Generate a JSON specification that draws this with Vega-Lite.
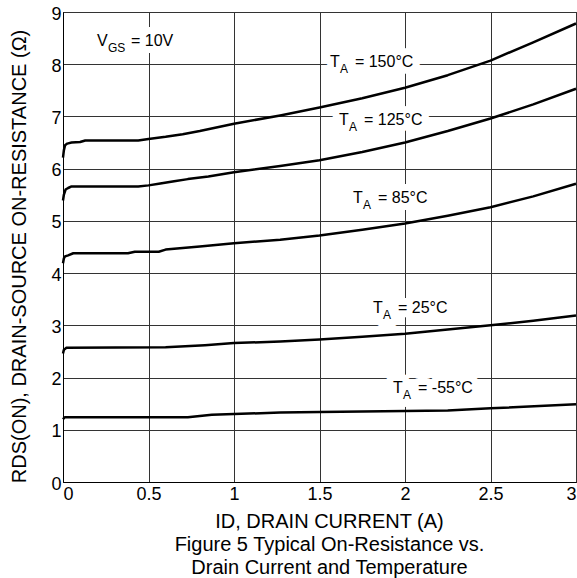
{
  "$schema": "https://vega.github.io/schema/vega-lite/v6.json",
  "width": 513,
  "height": 470,
  "autosize": {"type": "none"},
  "padding": {"left": 63, "top": 12, "right": 1, "bottom": 96},
  "background": "white",
  "config": {
    "font": "Liberation Sans",
    "view": {"stroke": "black", "strokeWidth": 1}
  },
  "datasets": {
    "curves": [
      {"series": "150", "id": 0, "r": 6.21}, {"series": "150", "id": 0.005, "r": 6.35}, {"series": "150", "id": 0.012, "r": 6.45}, {"series": "150", "id": 0.025, "r": 6.48}, {"series": "150", "id": 0.05, "r": 6.5}, {"series": "150", "id": 0.1, "r": 6.51}, {"series": "150", "id": 0.13, "r": 6.54}, {"series": "150", "id": 0.44, "r": 6.54}, {"series": "150", "id": 0.5, "r": 6.57}, {"series": "150", "id": 0.6, "r": 6.61}, {"series": "150", "id": 0.7, "r": 6.66}, {"series": "150", "id": 0.8, "r": 6.72}, {"series": "150", "id": 1.0, "r": 6.86}, {"series": "150", "id": 1.27, "r": 7.02}, {"series": "150", "id": 1.5, "r": 7.17}, {"series": "150", "id": 1.75, "r": 7.35}, {"series": "150", "id": 2.0, "r": 7.55}, {"series": "150", "id": 2.25, "r": 7.79}, {"series": "150", "id": 2.5, "r": 8.07}, {"series": "150", "id": 2.75, "r": 8.42}, {"series": "150", "id": 3.0, "r": 8.78},
      {"series": "125", "id": 0, "r": 5.39}, {"series": "125", "id": 0.005, "r": 5.5}, {"series": "125", "id": 0.015, "r": 5.6}, {"series": "125", "id": 0.03, "r": 5.63}, {"series": "125", "id": 0.05, "r": 5.66}, {"series": "125", "id": 0.44, "r": 5.66}, {"series": "125", "id": 0.5, "r": 5.68}, {"series": "125", "id": 0.56, "r": 5.71}, {"series": "125", "id": 0.65, "r": 5.76}, {"series": "125", "id": 0.73, "r": 5.8}, {"series": "125", "id": 0.85, "r": 5.85}, {"series": "125", "id": 1.0, "r": 5.93}, {"series": "125", "id": 1.27, "r": 6.05}, {"series": "125", "id": 1.5, "r": 6.16}, {"series": "125", "id": 1.75, "r": 6.32}, {"series": "125", "id": 2.0, "r": 6.5}, {"series": "125", "id": 2.25, "r": 6.72}, {"series": "125", "id": 2.5, "r": 6.96}, {"series": "125", "id": 2.75, "r": 7.23}, {"series": "125", "id": 3.0, "r": 7.53},
      {"series": "85", "id": 0, "r": 4.19}, {"series": "85", "id": 0.005, "r": 4.28}, {"series": "85", "id": 0.012, "r": 4.32}, {"series": "85", "id": 0.03, "r": 4.34}, {"series": "85", "id": 0.06, "r": 4.38}, {"series": "85", "id": 0.38, "r": 4.38}, {"series": "85", "id": 0.42, "r": 4.41}, {"series": "85", "id": 0.56, "r": 4.41}, {"series": "85", "id": 0.6, "r": 4.45}, {"series": "85", "id": 0.8, "r": 4.51}, {"series": "85", "id": 1.0, "r": 4.57}, {"series": "85", "id": 1.27, "r": 4.64}, {"series": "85", "id": 1.5, "r": 4.72}, {"series": "85", "id": 1.75, "r": 4.83}, {"series": "85", "id": 2.0, "r": 4.95}, {"series": "85", "id": 2.25, "r": 5.1}, {"series": "85", "id": 2.5, "r": 5.26}, {"series": "85", "id": 2.75, "r": 5.47}, {"series": "85", "id": 3.0, "r": 5.71},
      {"series": "25", "id": 0, "r": 2.46}, {"series": "25", "id": 0.005, "r": 2.53}, {"series": "25", "id": 0.02, "r": 2.57}, {"series": "25", "id": 0.6, "r": 2.58}, {"series": "25", "id": 0.83, "r": 2.62}, {"series": "25", "id": 1.0, "r": 2.66}, {"series": "25", "id": 1.27, "r": 2.69}, {"series": "25", "id": 1.5, "r": 2.73}, {"series": "25", "id": 1.75, "r": 2.78}, {"series": "25", "id": 2.0, "r": 2.84}, {"series": "25", "id": 2.25, "r": 2.92}, {"series": "25", "id": 2.5, "r": 3.0}, {"series": "25", "id": 2.75, "r": 3.09}, {"series": "25", "id": 3.0, "r": 3.19},
      {"series": "-55", "id": 0, "r": 1.2}, {"series": "-55", "id": 0.01, "r": 1.24}, {"series": "-55", "id": 0.73, "r": 1.24}, {"series": "-55", "id": 0.87, "r": 1.29}, {"series": "-55", "id": 1.0, "r": 1.3}, {"series": "-55", "id": 1.27, "r": 1.33}, {"series": "-55", "id": 1.5, "r": 1.34}, {"series": "-55", "id": 2.0, "r": 1.36}, {"series": "-55", "id": 2.25, "r": 1.37}, {"series": "-55", "id": 2.5, "r": 1.41}, {"series": "-55", "id": 3.0, "r": 1.49}
    ],
    "labels": [
      {"m": "T", "s": "A", "rest": "=  150°C", "id": 1.561, "r": 7.95},
      {"m": "T", "s": "A", "rest": "=  125°C", "id": 1.614, "r": 6.84},
      {"m": "T", "s": "A", "rest": "=  85°C", "id": 1.696, "r": 5.34},
      {"m": "T", "s": "A", "rest": "=  25°C", "id": 1.813, "r": 3.23},
      {"m": "T", "s": "A", "rest": "=  -55°C", "id": 1.93, "r": 1.70}
    ],
    "vgs": [
      {"m": "V", "s": "GS", "rest": "=  10V", "id": 0.199, "r": 8.34}
    ]
  },
  "layer": [
    {
      "data": {"name": "curves"},
      "mark": {"type": "line", "color": "black", "strokeWidth": 2.5, "strokeJoin": "round"},
      "encoding": {
        "x": {
          "field": "id", "type": "quantitative",
          "scale": {"domain": [0, 3], "nice": false, "zero": false},
          "axis": {
            "title": ["ID, DRAIN CURRENT (A)", "Figure 5 Typical On-Resistance vs.", "Drain Current and Temperature"],
            "values": [0, 0.5, 1, 1.5, 2, 2.5, 3],
            "format": "~g",
            "grid": true, "gridColor": "#333", "gridWidth": 1, "gridOpacity": 1,
            "tickSize": 0, "domainColor": "black", "domainWidth": 1,
            "labelFontSize": 18, "labelColor": "black", "labelPadding": 3, "labelFlush": true,
            "titleFontSize": 20, "titleFontWeight": "normal", "titleColor": "black",
            "titleLineHeight": 23, "titleX": 266, "titleY": 45,
            "titleBaseline": "alphabetic", "titleAlign": "center", "titleAnchor": null
          }
        },
        "y": {
          "field": "r", "type": "quantitative",
          "scale": {"domain": [0, 9], "nice": false},
          "axis": {
            "title": "RDS(ON), DRAIN-SOURCE ON-RESISTANCE (Ω)",
            "values": [0, 1, 2, 3, 4, 5, 6, 7, 8, 9],
            "format": "d",
            "grid": true, "gridColor": "#333", "gridWidth": 1, "gridOpacity": 1,
            "tickSize": 0, "domainColor": "black", "domainWidth": 1,
            "labelFontSize": 18, "labelColor": "black", "labelPadding": 2, "labelOffset": 2,
            "titleFontSize": 20, "titleFontWeight": "normal", "titleColor": "black",
            "titleX": -44, "titleY": 244, "titleAngle": -90,
            "titleAlign": "center", "titleBaseline": "middle"
          }
        },
        "detail": {"field": "series"}
      }
    },
    {
      "data": {"name": "labels"},
      "mark": {"type": "text", "align": "left", "baseline": "alphabetic", "fontSize": 16, "color": "white", "stroke": "white", "strokeWidth": 14, "strokeJoin": "round"},
      "encoding": {"x": {"field": "id", "type": "quantitative"}, "y": {"field": "r", "type": "quantitative"}, "text": {"field": "m"}}
    },
    {
      "data": {"name": "labels"},
      "mark": {"type": "text", "align": "left", "baseline": "alphabetic", "fontSize": 12, "dx": 10, "dy": 6, "color": "white", "stroke": "white", "strokeWidth": 16, "strokeJoin": "round"},
      "encoding": {"x": {"field": "id", "type": "quantitative"}, "y": {"field": "r", "type": "quantitative"}, "text": {"field": "s"}}
    },
    {
      "data": {"name": "labels"},
      "mark": {"type": "text", "align": "left", "baseline": "alphabetic", "fontSize": 16, "dx": 25, "color": "white", "stroke": "white", "strokeWidth": 14, "strokeJoin": "round"},
      "encoding": {"x": {"field": "id", "type": "quantitative"}, "y": {"field": "r", "type": "quantitative"}, "text": {"field": "rest"}}
    },
    {
      "data": {"name": "vgs"},
      "mark": {"type": "text", "align": "left", "baseline": "alphabetic", "fontSize": 16, "color": "white", "stroke": "white", "strokeWidth": 14, "strokeJoin": "round"},
      "encoding": {"x": {"field": "id", "type": "quantitative"}, "y": {"field": "r", "type": "quantitative"}, "text": {"field": "m"}}
    },
    {
      "data": {"name": "vgs"},
      "mark": {"type": "text", "align": "left", "baseline": "alphabetic", "fontSize": 12, "dx": 11, "dy": 5.5, "color": "white", "stroke": "white", "strokeWidth": 16, "strokeJoin": "round"},
      "encoding": {"x": {"field": "id", "type": "quantitative"}, "y": {"field": "r", "type": "quantitative"}, "text": {"field": "s"}}
    },
    {
      "data": {"name": "vgs"},
      "mark": {"type": "text", "align": "left", "baseline": "alphabetic", "fontSize": 16, "dx": 34, "color": "white", "stroke": "white", "strokeWidth": 14, "strokeJoin": "round"},
      "encoding": {"x": {"field": "id", "type": "quantitative"}, "y": {"field": "r", "type": "quantitative"}, "text": {"field": "rest"}}
    },
    {
      "data": {"name": "labels"},
      "mark": {"type": "text", "align": "left", "baseline": "alphabetic", "fontSize": 16, "color": "black"},
      "encoding": {"x": {"field": "id", "type": "quantitative"}, "y": {"field": "r", "type": "quantitative"}, "text": {"field": "m"}}
    },
    {
      "data": {"name": "labels"},
      "mark": {"type": "text", "align": "left", "baseline": "alphabetic", "fontSize": 12, "dx": 10, "dy": 6, "color": "black"},
      "encoding": {"x": {"field": "id", "type": "quantitative"}, "y": {"field": "r", "type": "quantitative"}, "text": {"field": "s"}}
    },
    {
      "data": {"name": "labels"},
      "mark": {"type": "text", "align": "left", "baseline": "alphabetic", "fontSize": 16, "dx": 25, "color": "black"},
      "encoding": {"x": {"field": "id", "type": "quantitative"}, "y": {"field": "r", "type": "quantitative"}, "text": {"field": "rest"}}
    },
    {
      "data": {"name": "vgs"},
      "mark": {"type": "text", "align": "left", "baseline": "alphabetic", "fontSize": 16, "color": "black"},
      "encoding": {"x": {"field": "id", "type": "quantitative"}, "y": {"field": "r", "type": "quantitative"}, "text": {"field": "m"}}
    },
    {
      "data": {"name": "vgs"},
      "mark": {"type": "text", "align": "left", "baseline": "alphabetic", "fontSize": 12, "dx": 11, "dy": 5.5, "color": "black"},
      "encoding": {"x": {"field": "id", "type": "quantitative"}, "y": {"field": "r", "type": "quantitative"}, "text": {"field": "s"}}
    },
    {
      "data": {"name": "vgs"},
      "mark": {"type": "text", "align": "left", "baseline": "alphabetic", "fontSize": 16, "dx": 34, "color": "black"},
      "encoding": {"x": {"field": "id", "type": "quantitative"}, "y": {"field": "r", "type": "quantitative"}, "text": {"field": "rest"}}
    }
  ]
}
